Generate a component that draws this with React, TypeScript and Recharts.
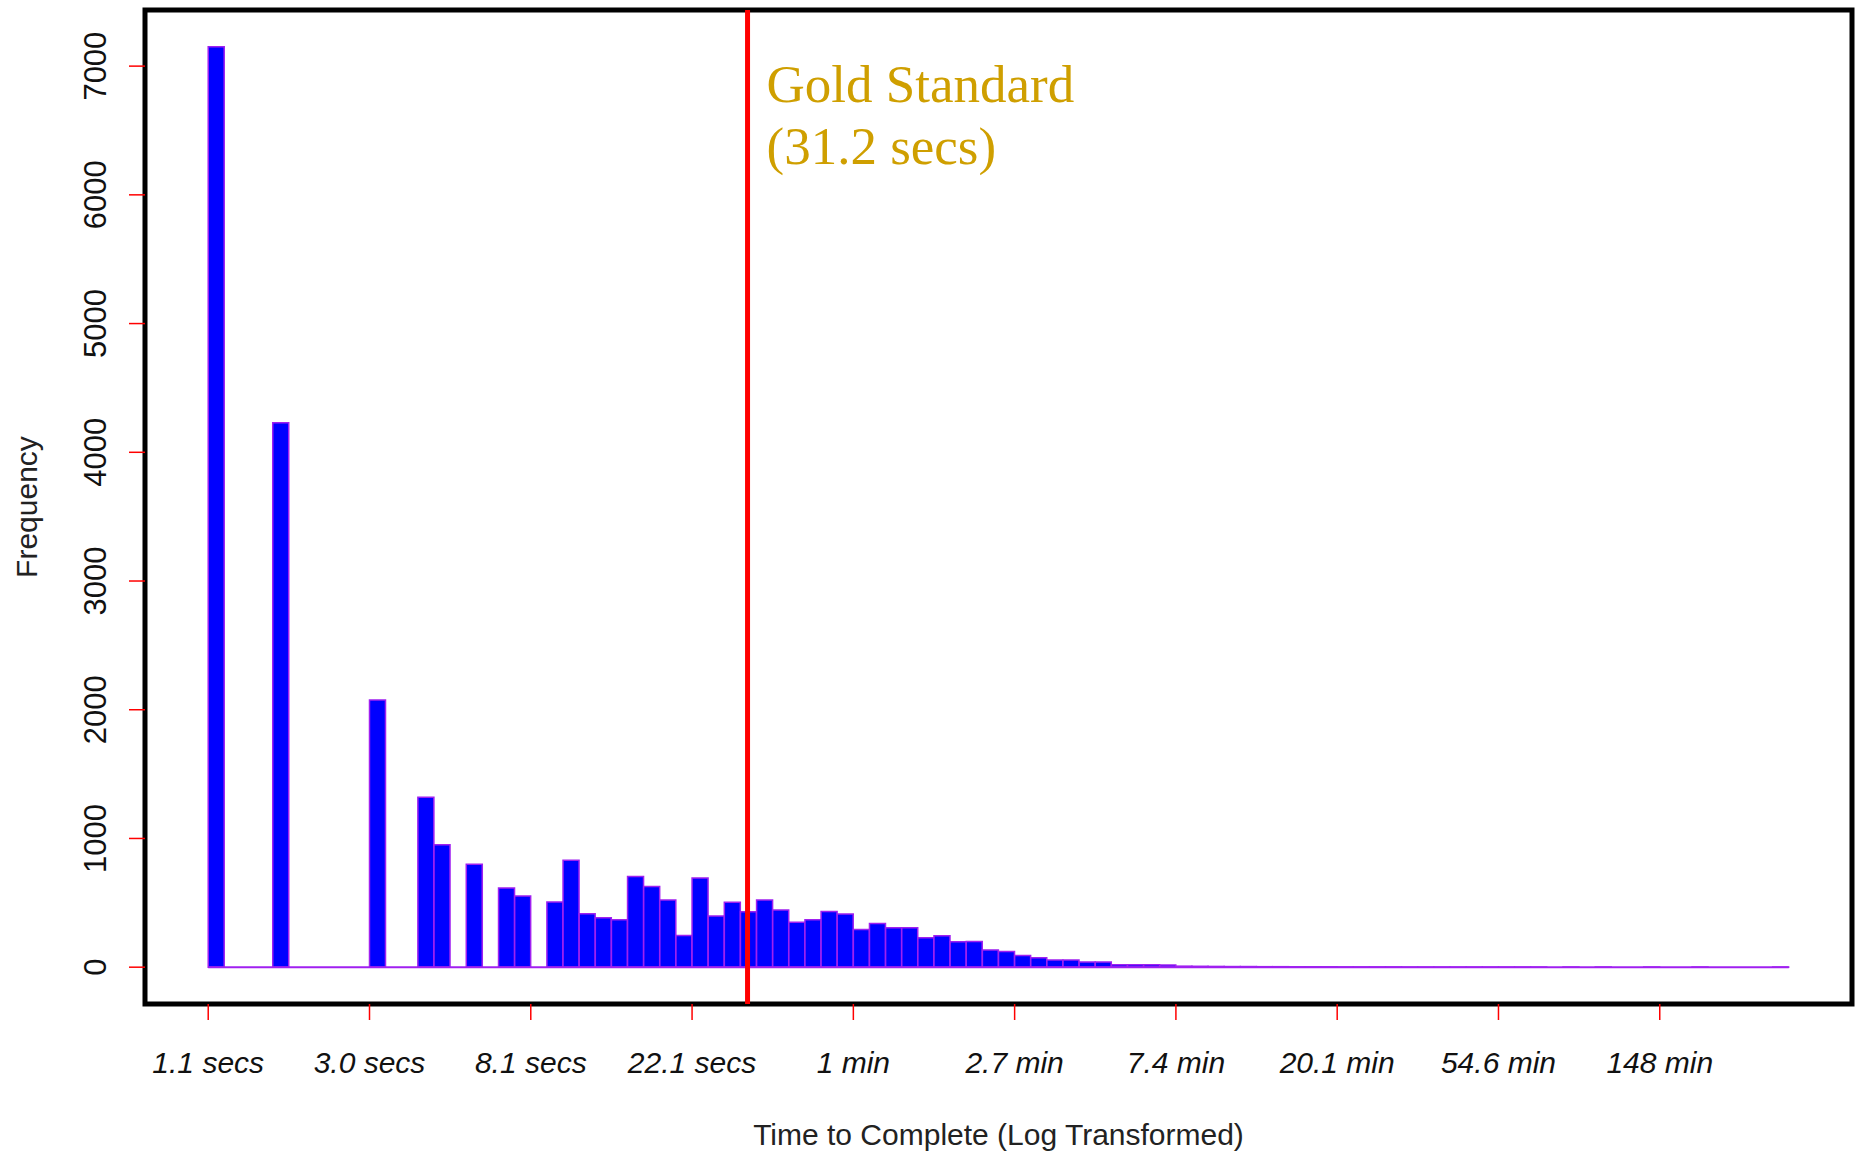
import { Bar, ComposedChart, Label, ReferenceArea, ReferenceLine, XAxis, YAxis } from "recharts";

// histogram breaks are on the log(time) scale, 0.1 wide, starting at 0
const binStart = 0;
const binWidth = 0.1;
const frequencies = [
  7150, 0, 0, 0, 4230, 0, 0, 0, 0, 0,
  2075, 0, 0, 1320, 952, 0, 800, 0, 615, 553,
  0, 506, 831, 416, 385, 368, 704, 627, 522, 247,
  692, 398, 505, 430, 522, 445, 350, 368, 432, 413,
  292, 339, 306, 306, 228, 245, 197, 199, 134, 121,
  91, 73, 56, 56, 40, 40, 18, 18, 18, 17,
  8, 7, 6, 5, 5, 4, 4, 3, 3, 3,
  2, 2, 2, 2, 1, 1, 1, 1, 1, 1,
  1, 1, 1, 0, 1, 0, 1, 0, 0, 1,
  0, 0, 1, 0, 0, 0, 0, 1,
];

const xTickPositions = [0, 1, 2, 3, 4, 5, 6, 7, 8, 9];
const xTickLabels = ["1.1 secs", "3.0 secs", "8.1 secs", "22.1 secs", "1 min", "2.7 min", "7.4 min", "20.1 min", "54.6 min", "148 min"];
const yTicks = [0, 1000, 2000, 3000, 4000, 5000, 6000, 7000];

const goldStandardLog = 3.344;
const goldStandardLines = ["Gold Standard", "(31.2 secs)"];

const bins = frequencies.map((count, i) => ({ mid: binStart + (i + 0.5) * binWidth, count }));
const lastBreak = binStart + frequencies.length * binWidth;
// base R pads both axes by 4% of the data range
const xPad = (lastBreak - binStart) * 0.04;
const xDomain = [binStart - xPad, lastBreak + xPad];
const yMax = Math.max(...frequencies);
const yDomain = [-yMax * 0.04, yMax * 1.04];

const FONT = "'Liberation Sans', Arial, sans-serif";
const PURPLE = "#A020F0";

function XTick({ x, y, payload }: any) {
  const label = xTickLabels[xTickPositions.indexOf(payload.value)];
  return (
    <text x={x} y={y + 51} textAnchor="middle" fontFamily={FONT} fontSize={30} fontStyle="italic" fill="#111">
      {label}
    </text>
  );
}

function YTick({ x, y, payload }: any) {
  const bx = x - 21;
  return (
    <text x={bx} y={y} transform={`rotate(-90, ${bx}, ${y})`} textAnchor="middle" fontFamily={FONT} fontSize={31} fill="#111">
      {payload.value}
    </text>
  );
}

function XTitle({ viewBox }: any) {
  return (
    <text x={viewBox.x + viewBox.width / 2} y={viewBox.y + 141} textAnchor="middle" fontFamily={FONT} fontSize={30} fill="#222">
      Time to Complete (Log Transformed)
    </text>
  );
}

function YTitle({ viewBox }: any) {
  const cy = viewBox.y + viewBox.height / 2;
  return (
    <text x={37} y={cy} transform={`rotate(-90, 37, ${cy})`} textAnchor="middle" fontFamily={FONT} fontSize={30} fill="#222">
      Frequency
    </text>
  );
}

function GoldLabel({ viewBox }: any) {
  const tx = viewBox.x + 19;
  return (
    <text fontFamily="'Liberation Serif', 'Times New Roman', serif" fontSize={53} fill="#CF9F00">
      {goldStandardLines.map((line, i) => (
        <tspan key={line} x={tx} y={viewBox.y + 92 + i * 61.5}>
          {line}
        </tspan>
      ))}
    </text>
  );
}

export default function App() {
  return (
    <div style={{ position: "absolute", left: 0, top: 0, background: "#fff" }}>
      <ComposedChart width={1858} height={1151} data={bins} margin={{ top: 10, right: 6, bottom: 0, left: 0 }} barCategoryGap={0} barGap={0}>
        <XAxis
          type="number"
          dataKey="mid"
          domain={xDomain}
          allowDataOverflow
          ticks={xTickPositions}
          interval={0}
          height={147}
          axisLine={false}
          tickSize={16}
          tickLine={{ stroke: "#ff0000", strokeWidth: 1.5 }}
          tick={<XTick />}
        >
          <Label content={<XTitle />} />
        </XAxis>
        <YAxis
          type="number"
          domain={yDomain}
          allowDataOverflow
          ticks={yTicks}
          interval={0}
          width={145}
          axisLine={false}
          tickSize={16}
          tickLine={{ stroke: "#ff0000", strokeWidth: 1.5 }}
          tick={<YTick />}
        >
          <Label content={<YTitle />} />
        </YAxis>
        <ReferenceLine
          segment={[{ x: binStart, y: 0 }, { x: lastBreak, y: 0 }]}
          stroke={PURPLE}
          strokeWidth={2}
          ifOverflow="visible"
        />
        <Bar dataKey="count" fill="#0000FF" stroke={PURPLE} strokeWidth={1.5} isAnimationActive={false} />
        <ReferenceLine x={goldStandardLog} stroke="#ff0000" strokeWidth={5} label={<GoldLabel />} />
        <ReferenceArea
          x1={xDomain[0]}
          x2={xDomain[1]}
          y1={yDomain[0]}
          y2={yDomain[1]}
          fill="none"
          stroke="#000"
          strokeWidth={5}
          ifOverflow="visible"
        />
      </ComposedChart>
    </div>
  );
}
